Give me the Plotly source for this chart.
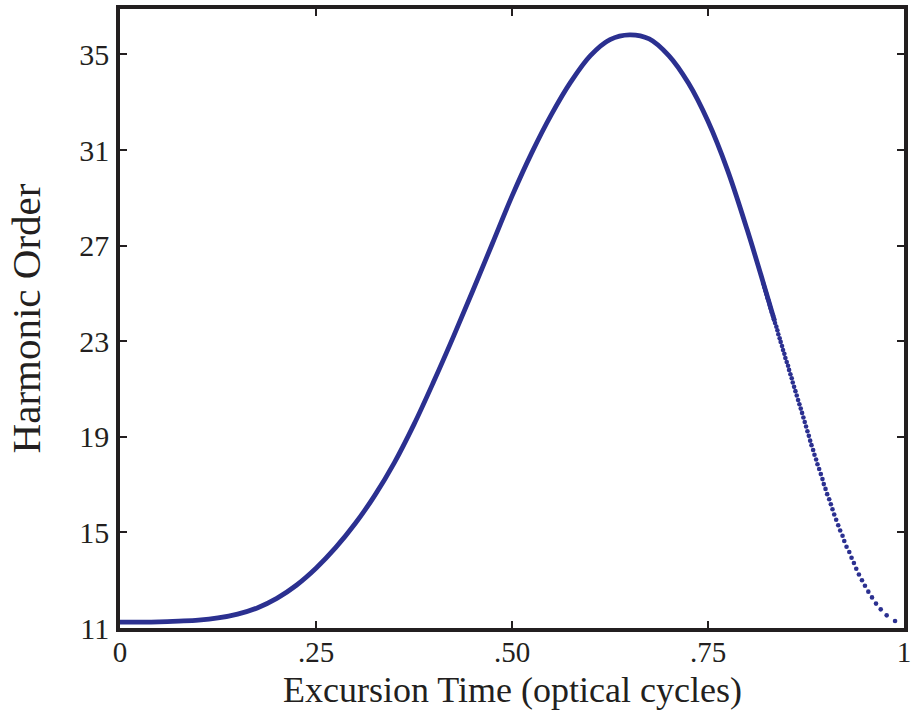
import plotly.graph_objects as go

# Main (dense, visually continuous) part of the curve
curve_x = [0.000, 0.025, 0.050, 0.075, 0.100, 0.125, 0.150, 0.175, 0.200, 0.225,
           0.250, 0.275, 0.300, 0.325, 0.350, 0.375, 0.400, 0.425, 0.450, 0.475,
           0.500, 0.525, 0.550, 0.575, 0.600, 0.625, 0.650, 0.675, 0.700, 0.725,
           0.750, 0.775, 0.800, 0.825, 0.835]
curve_y = [11.25, 11.25, 11.26, 11.29, 11.33, 11.42, 11.58, 11.84, 12.24, 12.79,
           13.50, 14.36, 15.37, 16.55, 17.92, 19.52, 21.30, 23.17, 25.11, 27.09,
           29.07, 30.87, 32.47, 33.85, 34.95, 35.62, 35.82, 35.65, 34.95, 33.80,
           32.20, 30.15, 27.66, 24.95, 23.84]

# Tail part where individual sample dots are visible
dots_x = [0.9886, 0.9779, 0.9703, 0.9643, 0.9592, 0.9545, 0.9502, 0.9464, 0.9425, 0.9391,
          0.9361, 0.9331, 0.9302, 0.9267, 0.9238, 0.9216, 0.9186, 0.9161, 0.9135, 0.9110,
          0.9088, 0.9067, 0.9046, 0.9020, 0.8999, 0.8977, 0.8960, 0.8939, 0.8918, 0.8896,
          0.8879, 0.8858, 0.8841, 0.8820, 0.8803, 0.8786, 0.8768, 0.8751, 0.8734, 0.8717,
          0.8700, 0.8683, 0.8666, 0.8649, 0.8632, 0.8615, 0.8598, 0.8581, 0.8568, 0.8551,
          0.8534, 0.8521, 0.8504, 0.8487, 0.8474, 0.8457, 0.8444, 0.8427, 0.8414, 0.8397,
          0.8385, 0.8372, 0.8355, 0.8342, 0.8329, 0.8312, 0.8299, 0.8286, 0.8274, 0.8257,
          0.8244, 0.8231, 0.8218, 0.8205]
dots_y = [11.29, 11.53, 11.78, 12.02, 12.28, 12.52, 12.77, 13.00, 13.24, 13.48,
          13.72, 13.94, 14.18, 14.40, 14.64, 14.86, 15.08, 15.30, 15.53, 15.75,
          15.97, 16.18, 16.39, 16.60, 16.82, 17.02, 17.23, 17.44, 17.65, 17.85,
          18.05, 18.25, 18.45, 18.65, 18.84, 19.04, 19.23, 19.43, 19.62, 19.81,
          20.00, 20.18, 20.36, 20.54, 20.73, 20.91, 21.09, 21.27, 21.45, 21.62,
          21.80, 21.97, 22.13, 22.30, 22.47, 22.63, 22.80, 22.97, 23.12, 23.29,
          23.46, 23.61, 23.76, 23.92, 24.07, 24.22, 24.38, 24.53, 24.68, 24.82,
          24.98, 25.12, 25.27, 25.41]

x_tickvals = [0, 0.25, 0.5, 0.75, 1]
x_ticktext = ["0", ".25", ".50", ".75", "1"]
y_tickvals = [11, 15, 19, 23, 27, 31, 35]
x_title = "Excursion Time (optical cycles)"
y_title = "Harmonic Order"

blue = "#2B3090"
axis_col = "#231F20"
font_family = "Liberation Serif, Times New Roman, serif"

fig = go.Figure()
fig.add_trace(go.Scatter(x=curve_x, y=curve_y, mode="lines",
                         line=dict(color=blue, width=4.8, shape="spline", smoothing=1.0),
                         cliponaxis=False, showlegend=False, hoverinfo="skip"))
fig.add_trace(go.Scatter(x=dots_x, y=dots_y, mode="markers",
                         marker=dict(color=blue, size=4.6, line=dict(width=0)),
                         cliponaxis=False, showlegend=False, hoverinfo="skip"))

fig.update_layout(
    width=916, height=720,
    margin=dict(l=120, r=9, t=5, b=92),
    paper_bgcolor="white", plot_bgcolor="white",
    font=dict(family=font_family, color=axis_col),
    annotations=[
        dict(text=x_title, xref="paper", yref="paper", x=0.5, y=-0.100,
             xanchor="center", yanchor="middle", showarrow=False,
             font=dict(size=36, family=font_family, color=axis_col)),
        dict(text=y_title, xref="paper", yref="paper", x=-0.12, y=0.5,
             xanchor="center", yanchor="middle", showarrow=False, textangle=-90,
             font=dict(size=41, family=font_family, color=axis_col)),
    ],
)
fig.update_xaxes(
    range=[0, 1], tickvals=x_tickvals, ticktext=x_ticktext,
    showgrid=False, zeroline=False,
    showline=True, linecolor=axis_col, linewidth=3.5, mirror="ticks",
    ticks="inside", ticklen=7, tickwidth=2, tickcolor=axis_col,
    tickfont=dict(size=29, family=font_family, color=axis_col),
    ticklabelstandoff=-5,
)
fig.update_yaxes(
    range=[11, 36.9], tickvals=y_tickvals,
    showgrid=False, zeroline=False,
    showline=True, linecolor=axis_col, linewidth=3.5, mirror="ticks",
    ticks="inside", ticklen=7, tickwidth=2, tickcolor=axis_col,
    tickfont=dict(size=30, family=font_family, color=axis_col),
    ticklabelstandoff=1,
)

fig.write_html("out.html")
